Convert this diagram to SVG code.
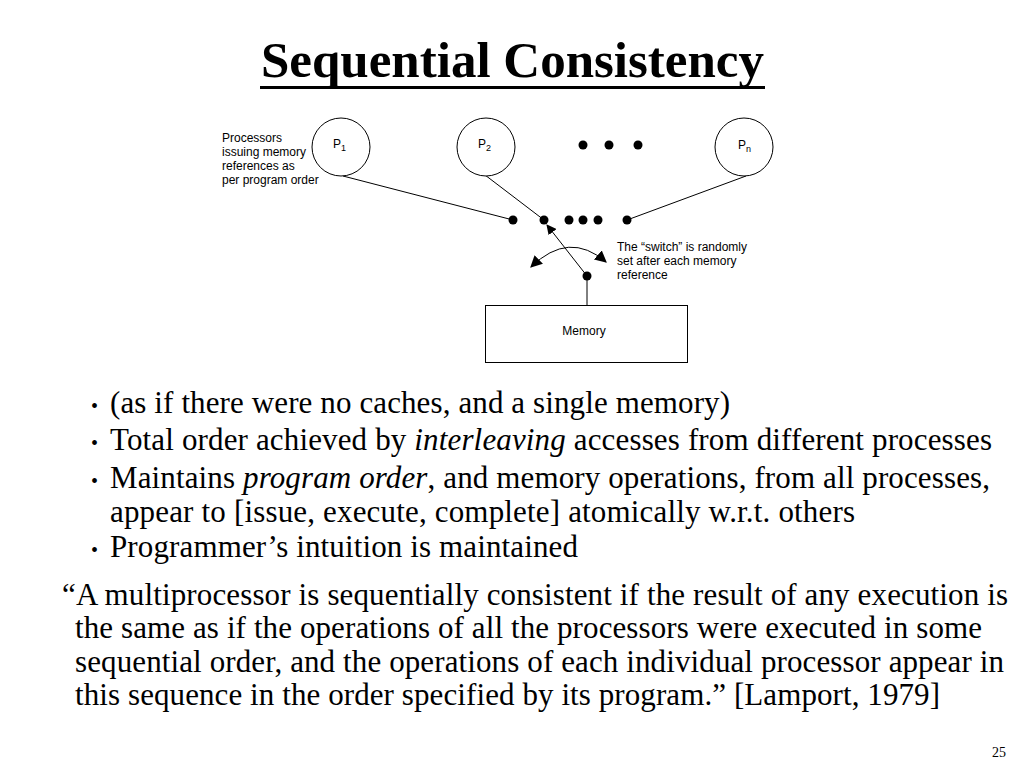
<svg xmlns="http://www.w3.org/2000/svg" width="1024" height="768" viewBox="0 0 1024 768">
<style>
.serif{font-family:"Liberation Serif","Times New Roman",serif;fill:#000}
.sans{font-family:"Liberation Sans",Arial,sans-serif;fill:#000}
.bul{font-size:31px}
.quo{font-size:31px}
.small{font-size:12px}
.node{fill:#fff;stroke:#000;stroke-width:1}
.conn{stroke:#000;stroke-width:1;fill:none}
.dot{fill:#000}
</style>
<defs>
<marker id="ah" viewBox="0 0 10 10" refX="9" refY="5" markerWidth="10" markerHeight="10" markerUnits="userSpaceOnUse" orient="auto">
<path d="M0,0 L10,5 L0,10 z" fill="#000"/>
</marker>
<marker id="ah2" viewBox="0 0 10 10" refX="9" refY="5" markerWidth="12" markerHeight="12" markerUnits="userSpaceOnUse" orient="auto-start-reverse">
<path d="M0,0 L10,5 L0,10 z" fill="#000"/>
</marker>
</defs>
<rect width="1024" height="768" fill="#fff"/>

<g id="title">
<text class="serif" x="261" y="77" font-size="51" font-weight="bold" textLength="503" lengthAdjust="spacingAndGlyphs">Sequential Consistency</text>
<rect x="260" y="86" width="505" height="3" fill="#000"/>
</g>

<g id="connectors">
<line class="conn" x1="343" y1="176" x2="513" y2="220"/>
<line class="conn" x1="485" y1="175" x2="544" y2="220"/>
<line class="conn" x1="746" y1="176" x2="627" y2="220"/>
<line class="conn" x1="587" y1="276" x2="547" y2="225" marker-end="url(#ah)"/>
<line class="conn" x1="587" y1="276" x2="587" y2="306"/>
<path class="conn" d="M531,267 Q569,230 606,262" marker-start="url(#ah2)" marker-end="url(#ah2)"/>
</g>

<g id="switch-dots">
<circle class="dot" cx="513" cy="220" r="4.5"/>
<circle class="dot" cx="544" cy="220" r="4.5"/>
<circle class="dot" cx="569" cy="220" r="4.5"/>
<circle class="dot" cx="583" cy="220" r="4.5"/>
<circle class="dot" cx="598" cy="220" r="4.5"/>
<circle class="dot" cx="627" cy="220" r="4.5"/>
<circle class="dot" cx="587" cy="276" r="4.5"/>
</g>

<g id="proc-ellipsis">
<circle class="dot" cx="583" cy="145" r="4.5"/>
<circle class="dot" cx="609" cy="145" r="4.5"/>
<circle class="dot" cx="638" cy="145" r="4.5"/>
</g>

<g id="p1">
<circle class="node" cx="341" cy="147" r="29"/>
<text class="sans" x="333" y="148" font-size="12">P<tspan font-size="9" dy="3">1</tspan></text>
</g>
<g id="p2">
<circle class="node" cx="486" cy="147" r="29"/>
<text class="sans" x="478" y="148" font-size="12">P<tspan font-size="9" dy="3">2</tspan></text>
</g>
<g id="pn">
<circle class="node" cx="744" cy="147" r="29"/>
<text class="sans" x="738" y="149" font-size="12">P<tspan font-size="9" dy="3">n</tspan></text>
</g>

<g id="memory">
<rect class="node" x="485.5" y="305.5" width="202" height="57"/>
<text class="sans small" x="584" y="335" text-anchor="middle">Memory</text>
</g>

<g id="proc-note">
<text class="sans small" x="222" y="142">Processors</text>
<text class="sans small" x="222" y="156">issuing memory</text>
<text class="sans small" x="222" y="170">references as</text>
<text class="sans small" x="222" y="184">per program order</text>
</g>

<g id="switch-note">
<text class="sans small" x="617" y="251">The “switch” is randomly</text>
<text class="sans small" x="617" y="265">set after each memory</text>
<text class="sans small" x="617" y="279">reference</text>
</g>

<g id="bullets">
<text class="serif" x="91" y="413" font-size="20">•</text>
<text class="serif bul" x="110" y="413" textLength="620">(as if there were no caches, and a single memory)</text>
<text class="serif" x="91" y="450" font-size="20">•</text>
<text class="serif bul" x="110" y="450" textLength="882">Total order achieved by <tspan font-style="italic">interleaving</tspan> accesses from different processes</text>
<text class="serif" x="91" y="488" font-size="20">•</text>
<text class="serif bul" x="110" y="488" textLength="880">Maintains <tspan font-style="italic">program order</tspan>, and memory operations, from all processes,</text>
<text class="serif bul" x="110" y="522" textLength="745">appear to [issue, execute, complete] atomically w.r.t. others</text>
<text class="serif" x="91" y="557" font-size="20">•</text>
<text class="serif bul" x="110" y="557" textLength="468">Programmer’s intuition is maintained</text>
</g>

<g id="quote">
<text class="serif quo" x="62" y="605" textLength="946">“A multiprocessor is sequentially consistent if the result of any execution is</text>
<text class="serif quo" x="75" y="638" textLength="907">the same as if the operations of all the processors were executed in some</text>
<text class="serif quo" x="75" y="672" textLength="929">sequential order, and the operations of each individual processor appear in</text>
<text class="serif quo" x="75" y="705" textLength="865">this sequence in the order specified by its program.” [Lamport, 1979]</text>
</g>

<text class="serif" x="1006" y="757" font-size="14" text-anchor="end">25</text>
</svg>
